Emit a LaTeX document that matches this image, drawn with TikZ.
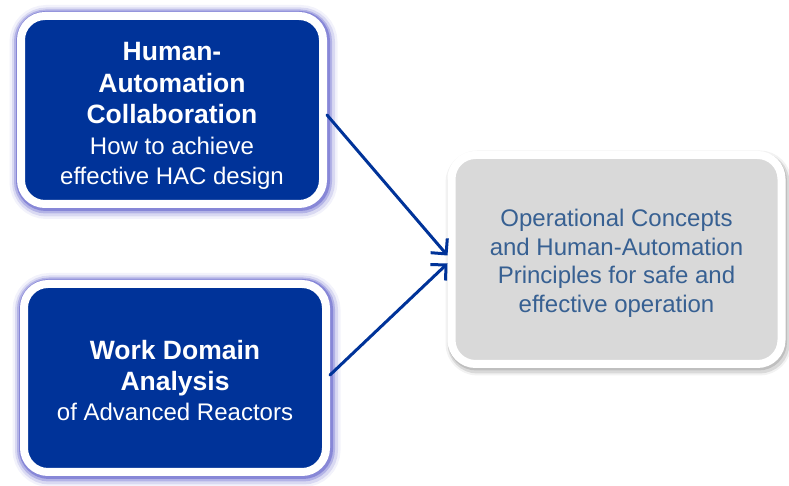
\documentclass[tikz,border=0pt]{standalone}
\usepackage{fontspec}
\setmainfont{Liberation Sans}
\usetikzlibrary{arrows.meta}
\definecolor{navy}{RGB}{0,51,153}
\definecolor{glow}{RGB}{90,90,200}
\definecolor{opsgray}{RGB}{217,217,217}
\definecolor{opstext}{RGB}{55,96,146}
\newcommand\hdr[1]{{\fontsize{26.5}{31.5}\selectfont\bfseries #1}}
\begin{document}
\begin{tikzpicture}[x=1pt, y=1pt,
                    line width=3pt,
                    font=\fontsize{24}{30}\selectfont,
                    ]
    \tikzstyle{base}=[rectangle, rounded corners=24pt, draw=white, line width=8pt, align=center]
    \tikzstyle{source}=[base, fill=navy, text=white, minimum width=302pt, minimum height=188pt,
        preaction={draw=glow, line width=26pt, opacity=0.08, transform canvas={shift={(1.5pt,-2pt)}}},
        preaction={draw=glow, line width=21pt, opacity=0.16, transform canvas={shift={(1.5pt,-2pt)}}},
        preaction={draw=glow, line width=16pt, opacity=0.3, transform canvas={shift={(1pt,-1.5pt)}}},
        preaction={draw=glow, line width=12pt, opacity=0.5, transform canvas={shift={(1pt,-1pt)}}}];
    \tikzstyle{target}=[base, fill=opsgray, text=opstext, minimum width=330pt, minimum height=209pt,
        font=\fontsize{24}{28.5}\selectfont,
        preaction={draw=black, line width=16pt, opacity=0.05, transform canvas={shift={(2pt,-3.5pt)}}},
        preaction={draw=black, line width=12pt, opacity=0.1, transform canvas={shift={(2pt,-3.5pt)}}},
        preaction={draw=black, line width=9pt, opacity=0.12, transform canvas={shift={(1pt,-2pt)}}}];
    \tikzstyle{link}=[draw=navy, line width=3pt, line cap=round, -{Straight Barb[length=11pt, width=22pt]}];

    \useasboundingbox (0,0) rectangle (789,486);

    \node[source] (hac) at (172,376) {\rule{0pt}{29pt}\hdr{Human-}\\[2pt]\hdr{Automation}\\[1pt]\hdr{Collaboration}\\[1pt]How to achieve\\effective HAC design};
    \node[source] (wda) at (175,108) {\rule{0pt}{24pt}\hdr{Work Domain}\\[1pt]\hdr{Analysis}\\[0pt]of Advanced Reactors};
    \node[target] (ops) at (616.5,226.5) {\rule{0pt}{25pt}Operational Concepts\\and Human-Automation\\Principles for safe and\\effective operation};

    \path[link] ([yshift=-5pt]hac.east) -- ([yshift=4pt]ops.west);
    \path[link] ([yshift=3pt]wda.east) -- ([yshift=-4pt]ops.west);
\end{tikzpicture}
\end{document}
